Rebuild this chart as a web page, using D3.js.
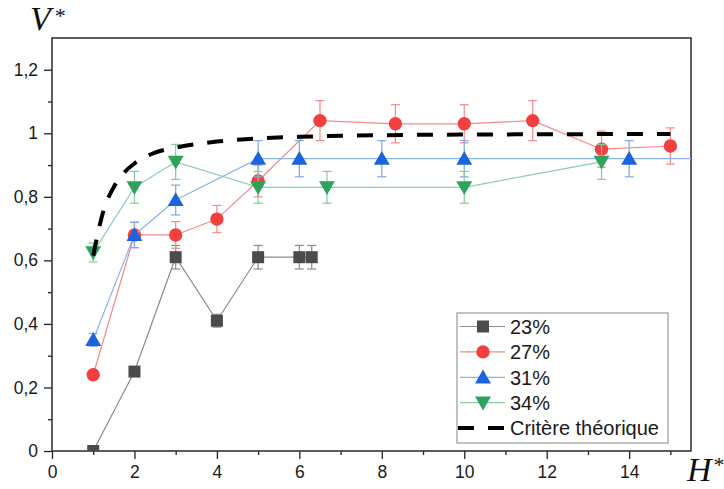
<!DOCTYPE html>
<html><head><meta charset="utf-8">
<script src="https://cdn.jsdelivr.net/npm/d3@7"></script>
<style>
html,body{margin:0;padding:0;background:#fff;}
svg{display:block;}
</style></head>
<body>
<svg id="chart" width="724" height="489"></svg>
<script>
// ---- data ----
const xMajorTicks = [0, 2, 4, 6, 8, 10, 12, 14];
const xMinorTicks = [1, 3, 5, 7, 9, 11, 13, 15];
const yMajorTicks = [0, 0.2, 0.4, 0.6, 0.8, 1, 1.2];
const yMinorTicks = [0.1, 0.3, 0.5, 0.7, 0.9, 1.1];

const h23 = [1, 2, 3, 4, 5, 6, 6.3];
const v23 = [0, 0.25, 0.61, 0.41, 0.61, 0.61, 0.61];
const e23 = [0, 0, 0.037, 0.02, 0.037, 0.037, 0.037];

const h27 = [1, 2, 3, 4, 5, 6.5, 8.33, 10, 11.66, 13.33, 15];
const v27 = [0.24, 0.68, 0.68, 0.73, 0.85, 1.04, 1.03, 1.03, 1.04, 0.95, 0.96];
const e27 = [0, 0.04, 0.042, 0.043, 0.05, 0.063, 0.06, 0.06, 0.063, 0.057, 0.057];

const h31 = [1, 2, 3, 5, 6, 8, 10, 14, 16];
const v31 = [0.35, 0.68, 0.79, 0.92, 0.92, 0.92, 0.92, 0.92, 0.92];
const e31 = [0.02, 0.04, 0.047, 0.057, 0.057, 0.057, 0.057, 0.057, 0.057];

const h34 = [1, 2, 3, 5, 6.67, 10, 13.33];
const v34 = [0.625, 0.83, 0.91, 0.83, 0.83, 0.83, 0.91];
const e34 = [0.03, 0.05, 0.055, 0.05, 0.05, 0.05, 0.055];

const hTheory = [1, 1.25, 1.5, 1.75, 2, 2.5, 3, 4, 5, 6, 8, 10, 12, 15];
const vTheory = [0.615, 0.757, 0.831, 0.876, 0.905, 0.939, 0.955, 0.974, 0.984, 0.989, 0.994, 0.996, 0.997, 0.998];

const seriesNames = ["23%", "27%", "31%", "34%"];
const theoryName = "Critère théorique";

// ---- setup ----
const svg = d3.select("#chart");
const L = 52, R = 691, T = 38, B = 451;
const x = d3.scaleLinear().domain([0, 15.5]).range([L, R]);
const y = d3.scaleLinear().domain([0, 1.3]).range([B, T]);
const fmt = d => String(+d.toFixed(1)).replace(".", ",");
const FONT = "'Liberation Sans', Arial, sans-serif";

svg.append("defs").append("clipPath").attr("id", "plotclip")
  .append("rect").attr("x", L).attr("y", T).attr("width", R - L).attr("height", B - T);

const styles = [
  {marker: "square", fill: "#4b4b4b", line: "#8c8c8c", err: "#8c8c8c"},
  {marker: "circle", fill: "#f43f3f", line: "#f28a8a", err: "#f28a8a"},
  {marker: "up", fill: "#1a64dc", line: "#8db3ec", err: "#7ea8e8"},
  {marker: "down", fill: "#2ea35e", line: "#8ccfa6", err: "#86c9a0"}
];
const seriesData = [
  h23.map((h, i) => ({h, v: v23[i], e: e23[i]})),
  h27.map((h, i) => ({h, v: v27[i], e: e27[i]})),
  h31.map((h, i) => ({h, v: v31[i], e: e31[i]})),
  h34.map((h, i) => ({h, v: v34[i], e: e34[i]}))
];

function markerPath(type) {
  if (type === "square") return d3.symbol(d3.symbolSquare, 144)();
  if (type === "circle") return d3.symbol(d3.symbolCircle, 140)();
  return d3.symbol(d3.symbolTriangle, 110)();
}
function markerTransform(type, px, py) {
  const off = type === "up" ? 1.5 : type === "down" ? -1.5 : 0;
  return `translate(${px},${py + off})` + (type === "down" ? " rotate(180)" : "");
}

// ---- axes ----
const axG = svg.append("g").attr("font-family", FONT);
const xAx = axG.append("g").attr("transform", `translate(0,${B})`)
  .call(d3.axisBottom(x).tickValues(xMajorTicks).tickSize(8).tickPadding(7).tickFormat(d => d));
const xAxMin = axG.append("g").attr("transform", `translate(0,${B})`)
  .call(d3.axisBottom(x).tickValues(xMinorTicks).tickSize(4).tickFormat(""));
const yAx = axG.append("g").attr("transform", `translate(${L},0)`)
  .call(d3.axisLeft(y).tickValues(yMajorTicks).tickSize(8).tickPadding(6).tickFormat(fmt));
const yAxMin = axG.append("g").attr("transform", `translate(${L},0)`)
  .call(d3.axisLeft(y).tickValues(yMinorTicks).tickSize(4).tickFormat(""));
[xAx, xAxMin, yAx, yAxMin].forEach(g => {
  g.select(".domain").remove();
  g.selectAll("line").attr("stroke", "#222").attr("stroke-width", 1.3);
  g.selectAll("text").attr("font-size", 17.5).attr("fill", "#1a1a1a").attr("font-family", FONT);
});

// frame
svg.append("path")
  .attr("d", `M${L},${B}H${R}V${T}H${L}Z`)
  .attr("fill", "none").attr("stroke", "#2a2a2a").attr("stroke-width", 1.5);

// ---- series ----
const plot = svg.append("g").attr("clip-path", "url(#plotclip)");
const line = d3.line().x(d => x(d.h)).y(d => y(d.v));

seriesData.forEach((data, si) => {
  const st = styles[si];
  const g = plot.append("g");
  g.append("path").datum(data).attr("d", line)
    .attr("fill", "none").attr("stroke", st.line).attr("stroke-width", 1.2);
  const eb = g.selectAll(".eb").data(data.filter(d => d.e > 0)).enter().append("g");
  eb.append("line").attr("x1", d => x(d.h)).attr("x2", d => x(d.h))
    .attr("y1", d => y(d.v - d.e)).attr("y2", d => y(d.v + d.e));
  eb.append("line").attr("x1", d => x(d.h) - 4.5).attr("x2", d => x(d.h) + 4.5)
    .attr("y1", d => y(d.v + d.e)).attr("y2", d => y(d.v + d.e));
  eb.append("line").attr("x1", d => x(d.h) - 4.5).attr("x2", d => x(d.h) + 4.5)
    .attr("y1", d => y(d.v - d.e)).attr("y2", d => y(d.v - d.e));
  eb.selectAll("line").attr("stroke", st.err).attr("stroke-width", 1.2);
  g.selectAll(".mk").data(data).enter().append("path")
    .attr("d", markerPath(st.marker))
    .attr("transform", d => markerTransform(st.marker, x(d.h), y(d.v)))
    .attr("fill", st.fill);
});

// theory curve
const theory = hTheory.map((h, i) => ({h, v: vTheory[i]}));
plot.append("path").datum(theory)
  .attr("d", d3.line().x(d => x(d.h)).y(d => y(d.v)).curve(d3.curveMonotoneX))
  .attr("fill", "none").attr("stroke", "#000").attr("stroke-width", 4)
  .attr("stroke-dasharray", "16,14");

// ---- legend ----
const lg = svg.append("g").attr("font-family", FONT);
lg.append("rect").attr("x", 457).attr("y", 313).attr("width", 211).attr("height", 130)
  .attr("fill", "#fff").attr("stroke", "#999").attr("stroke-width", 1.2);
const rowY = i => 326.5 + i * 25.4;
seriesNames.forEach((name, i) => {
  const st = styles[i];
  const yy = rowY(i);
  lg.append("line").attr("x1", 460).attr("x2", 505).attr("y1", yy).attr("y2", yy)
    .attr("stroke", st.line).attr("stroke-width", 1.2);
  lg.append("path").attr("d", markerPath(st.marker))
    .attr("transform", markerTransform(st.marker, 483, yy))
    .attr("fill", st.fill);
  lg.append("text").attr("x", 510).attr("y", yy).attr("dy", "0.36em")
    .attr("font-size", 20).attr("fill", "#1a1a1a").text(name);
});
{
  const yy = rowY(4);
  lg.append("line").attr("x1", 458).attr("x2", 505).attr("y1", yy).attr("y2", yy)
    .attr("stroke", "#000").attr("stroke-width", 4).attr("stroke-dasharray", "16,14");
  lg.append("text").attr("x", 510).attr("y", yy).attr("dy", "0.36em")
    .attr("font-size", 20).attr("fill", "#1a1a1a").text(theoryName);
}

// ---- axis titles ----
const tV = svg.append("text").attr("x", 30).attr("y", 30)
  .attr("font-family", "'Liberation Serif', 'Times New Roman', serif")
  .attr("font-style", "italic").attr("font-size", 34).attr("fill", "#111");
tV.append("tspan").text("V");
tV.append("tspan").attr("font-size", 22).attr("dx", 3).attr("dy", -7).text("*");
const tH = svg.append("text").attr("x", 687).attr("y", 481)
  .attr("font-family", "'Liberation Serif', 'Times New Roman', serif")
  .attr("font-style", "italic").attr("font-size", 34).attr("fill", "#111");
tH.append("tspan").text("H");
tH.append("tspan").attr("font-size", 22).attr("dx", 1).attr("dy", -9).text("*");
</script>
</body></html>
